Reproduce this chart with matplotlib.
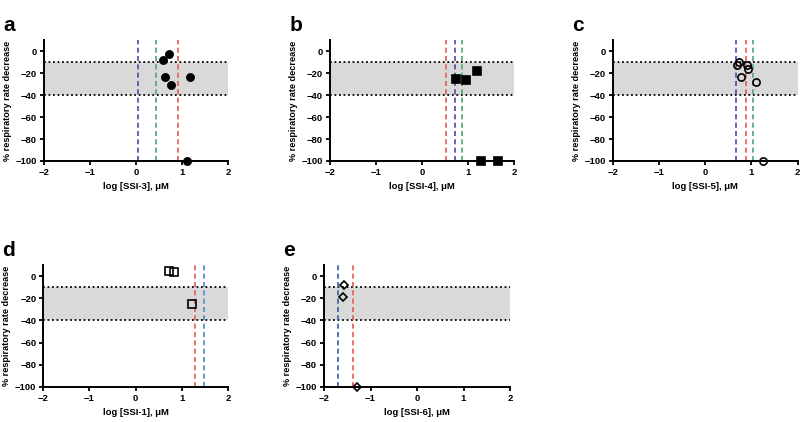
import matplotlib
matplotlib.use("Agg")
import matplotlib.pyplot as plt

plt.rcParams['font.family'] = ['Liberation Sans', 'DejaVu Sans']
plt.rcParams['font.weight'] = 'bold'

# Panel a: SSI-3
a_x = [0.58, 0.72, 0.64, 0.75, 1.17, 1.11]
a_y = [-8.5, -3, -24, -31, -24, -100]
a_lines = [0.05, 0.43, 0.91]
a_colors = ['#4a4aa8', '#4aa870', '#e05a5a']

# Panel b: SSI-4
b_x = [0.74, 0.95, 1.20, 1.29, 1.65]
b_y = [-25, -26, -18, -100, -100]
b_lines = [0.52, 0.72, 0.86]
b_colors = ['#e05a5a', '#4a4aa8', '#4aa870']

# Panel c: SSI-5
c_x = [0.69, 0.74, 0.91, 0.93, 0.78, 1.11, 1.25]
c_y = [-12.5, -10, -13, -16, -24, -28, -100]
c_lines = [0.67, 0.88, 1.04]
c_colors = ['#4a4aa8', '#e05a5a', '#4aa870']

# Panel d: SSI-1
d_x = [0.72, 0.84, 1.23]
d_y = [4.5, 4, -25]
d_lines = [1.28, 1.48]
d_colors = ['#e05a5a', '#4a8ac8']

# Panel e: SSI-6
e_x = [-1.56, -1.60, -1.30]
e_y = [-8, -18.5, -100]
e_lines = [-1.70, -1.38]
e_colors = ['#3a5a98', '#e05a5a']

xticks = [-2, -1, 0, 1, 2]
yticks = [0, -20, -40, -60, -80, -100]
band = (-40, -10)

panels = [
    ('a', 'log [SSI-3], μM', a_x, a_y, a_lines, a_colors, 'o', 'black', [0.055, 0.6185, 0.230, 0.2865]),
    ('b', 'log [SSI-4], μM', b_x, b_y, b_lines, b_colors, 's', 'black', [0.4125, 0.6185, 0.230, 0.2865]),
    ('c', 'log [SSI-5], μM', c_x, c_y, c_lines, c_colors, 'o', 'none', [0.766, 0.6185, 0.231, 0.2865]),
    ('d', 'log [SSI-1], μM', d_x, d_y, d_lines, d_colors, 's', 'none', [0.054, 0.083, 0.231, 0.289]),
    ('e', 'log [SSI-6], μM', e_x, e_y, e_lines, e_colors, 'D', 'none', [0.405, 0.083, 0.2325, 0.289]),
]

fig = plt.figure(figsize=(8, 4.22), dpi=100)

for letter, xlabel, xs, ys, lines, cols, marker, face, pos in panels:
    ax = fig.add_axes(pos)
    ax.set_xlim(-2, 2)
    ax.set_ylim(-100, 10)
    ax.axhspan(band[0], band[1], color='#d9d9d9', zorder=0, lw=0)
    for yv in band:
        ax.axhline(yv, color='black', linestyle=(0, (1, 1.5)), lw=1.3, zorder=1)
    for xv, c in zip(lines, cols):
        ax.axvline(xv, color=c, linestyle=(0, (3, 2)), lw=1.2, zorder=2)
    ms = 4.5 if marker == 'D' else 5.2
    ax.plot(xs, ys, linestyle='none', marker=marker, markersize=ms,
            markerfacecolor=face, markeredgecolor='black', markeredgewidth=1.2,
            zorder=5, clip_on=False)
    ax.set_xticks(xticks)
    ax.set_yticks(yticks)
    ax.tick_params(labelsize=6.8, width=1.3, length=3, pad=2)
    for lab in ax.get_xticklabels() + ax.get_yticklabels():
        lab.set_fontweight('bold')
    for s in ['top', 'right']:
        ax.spines[s].set_visible(False)
    for s in ['left', 'bottom']:
        ax.spines[s].set_linewidth(1.4)
    ax.set_xlabel(xlabel, fontsize=6.8, fontweight='bold', labelpad=4)
    ax.set_ylabel('% respiratory rate decrease', fontsize=6.6, fontweight='bold', labelpad=2.5)
    ax.text(-0.22, 1.2, letter, transform=ax.transAxes, fontsize=15,
            fontweight='bold', va='top', ha='left')

fig.savefig('out.png', dpi=100)
